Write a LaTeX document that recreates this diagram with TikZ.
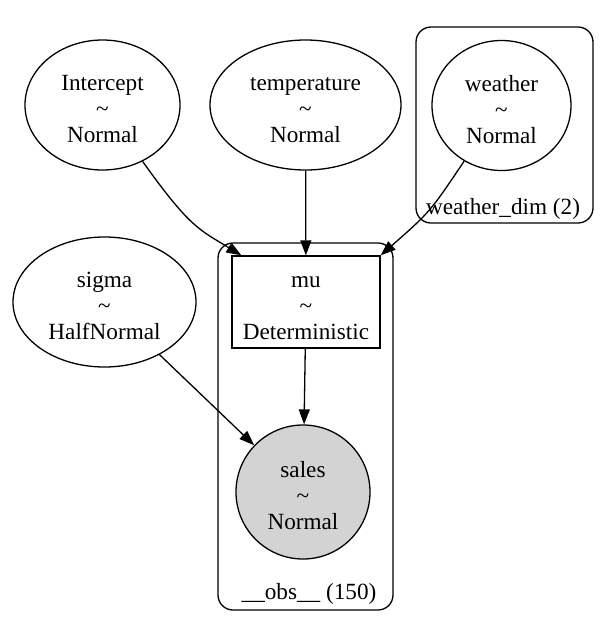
\documentclass[tikz,border=0pt]{standalone}
\usepackage{fontspec}
\setmainfont{Liberation Serif}
\usetikzlibrary{shapes.geometric}
\usetikzlibrary{arrows.meta}
\newcommand{\rvlabel}[2]{\rule{0pt}{24pt}#1\\\textasciitilde\\#2}

\begin{document}
\begin{tikzpicture}[x=1pt, y=-1pt, line width=1.3pt,
        lbl/.style={font=\fontsize{23.2}{26}\selectfont},
        rv/.style={lbl, draw, ellipse, inner sep=0pt, minimum height=130pt, align=center},
        det/.style={lbl, draw, rectangle, inner sep=0pt, minimum width=148pt, minimum height=92pt, align=center},
        plate/.style={draw, rounded corners=15pt},
        edge/.style={-{Triangle[length=15pt, width=11pt]}}]
        \useasboundingbox (0,0) rectangle (603,625);
        \draw [plate] (416,27) rectangle (593,223);
        \draw [plate] (218,243) rectangle (393,610);
        \node [lbl] (weatherdim) at (503,209) {weather\_dim (2)};
        \node [lbl] (obs) at (309,594) {\_\_obs\_\_ (150)};
        \node [rv, minimum width=155pt] (intercept) at (102.5,105) {\rvlabel{Intercept}{Normal}};
        \node [rv, minimum width=191pt] (temperature) at (305.5,105) {\rvlabel{temperature}{Normal}};
        \node [rv, minimum width=139pt] (weather) at (501.5,105.5) {\rvlabel{weather}{Normal}};
        \node [rv, minimum width=183pt] (sigma) at (104.5,302) {\rvlabel{sigma}{HalfNormal}};
        \node [det] (mu) at (306,302) {\rvlabel{mu}{Deterministic}};
        \node [rv, minimum size=134pt, fill={rgb,255:red,211;green,211;blue,211}] (sales) at (303,492) {\rvlabel{sales}{Normal}};
        \draw [edge] (intercept) .. controls (190,228) and (200,230) .. ([xshift=10pt]mu.north west);
        \draw [edge] (temperature) -- (mu);
        \draw [edge] (weather) .. controls (430,212) .. (mu.north east);
        \draw [edge] (sigma) -- (sales);
        \draw [edge] (mu) -- (sales);
\end{tikzpicture}
\end{document}
